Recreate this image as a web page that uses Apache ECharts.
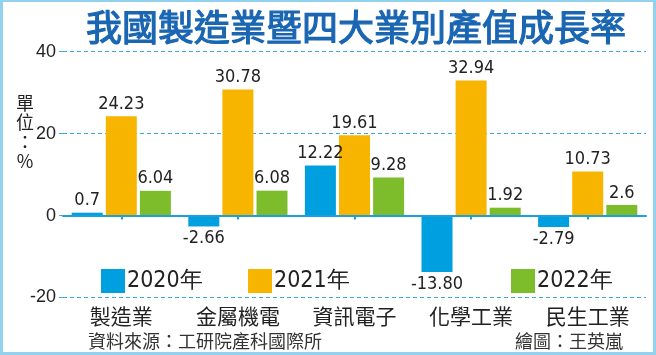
<!DOCTYPE html>
<html><head><meta charset="utf-8">
<script src="https://cdn.jsdelivr.net/npm/echarts@6/dist/echarts.min.js"></script>
<style>html,body{margin:0;padding:0;background:#fff}#c{width:656px;height:355px}</style>
</head><body><div id="c"></div>
<script>
const categories = ['製造業', '金屬機電', '資訊電子', '化學工業', '民生工業'];
const seriesNames = ['2020年', '2021年', '2022年'];
const values2020 = ['0.7', '-2.66', '12.22', '-13.80', '-2.79'];
const values2021 = ['24.23', '30.78', '19.61', '32.94', '10.73'];
const values2022 = ['6.04', '6.08', '9.28', '1.92', '2.6'];
const yTicks = [-20, 0, 20, 40];

const colors = ['#00a0e0', '#f7b500', '#7dbd2c'];
const NUM = '"Liberation Sans Narrow","DejaVu Sans Condensed","Liberation Sans",sans-serif';
const CJK = '"Noto Sans CJK TC","Noto Sans CJK SC",sans-serif';
const dash = '#3aa9dc';

function mk(name, vals, color, idx) {
  return {
    name: name, type: 'bar', barWidth: 31, barGap: '10%',
    itemStyle: { color: color },
    label: {
      show: true, color: '#222', fontSize: 18, fontFamily: NUM, distance: 3,
      formatter: p => vals[p.dataIndex]
    },
    data: vals.map(v => ({ value: Number(v), label: { position: Number(v) < 0 ? 'bottom' : 'top' } })),
    markLine: idx === 0 ? {
      silent: true, symbol: 'none', label: { show: false },
      lineStyle: { color: '#1aa0dc', width: 2, type: 'solid' },
      data: [{ yAxis: 0 }]
    } : undefined,
    z: 3
  };
}

const chart = echarts.init(document.getElementById('c'), null, { renderer: 'canvas' });
const legendLefts = [96, 243, 506];
chart.setOption({
  animation: false,
  grid: { left: 63, right: 10, top: 51.7, bottom: 57.5 },
  legend: seriesNames.map((n, i) => ({
    data: [n], left: legendLefts[i], top: 264, itemWidth: 24, itemHeight: 24,
    icon: 'rect', selectedMode: false,
    textStyle: { fontSize: 23, color: '#222', fontFamily: NUM, padding: [0, 0, 0, -3] }
  })),
  xAxis: {
    type: 'category', data: categories,
    axisLine: { lineStyle: { color: '#1aa0dc', width: 2 } },
    axisTick: { show: true, alignWithLabel: true, length: 4, lineStyle: { color: '#1aa0dc', width: 2 } },
    axisLabel: { color: '#222', fontSize: 21, fontFamily: CJK, margin: 8 }
  },
  yAxis: {
    type: 'value', min: yTicks[0], max: yTicks[yTicks.length - 1], interval: 20,
    axisLine: { show: false },
    axisTick: { show: true, length: 5, lineStyle: { color: dash, width: 1, type: [4, 3] } },
    axisLabel: { color: '#222', fontSize: 18, fontFamily: '"Liberation Sans",Arial,sans-serif', margin: 7 },
    splitLine: { show: true, lineStyle: { color: dash, width: 1, type: [4, 3] } }
  },
  series: [mk(seriesNames[0], values2020, colors[0], 0), mk(seriesNames[1], values2021, colors[1], 1), mk(seriesNames[2], values2022, colors[2], 2)],
  graphic: [
    { type: 'rect', shape: { x: 1.5, y: 0.5, width: 653, height: 353 }, style: { fill: 'none', stroke: '#92d2ef', lineWidth: 3 }, z: 100 },
    { type: 'text', x: 356, y: 27, style: { text: '我國製造業暨四大業別產值成長率', fontSize: 36, fontWeight: 'normal', fontFamily: CJK, fill: '#1a66b2', align: 'center', verticalAlign: 'middle', stroke: '#1a66b2', lineWidth: 1.2 }, z: 50 },
    { type: 'text', x: 25, y: 93, style: { text: '單\n位\n：\n%', fontSize: 18, lineHeight: 19.5, fontFamily: CJK, fill: '#222', align: 'center', verticalAlign: 'top' } },
    { type: 'text', x: 88, y: 341, style: { text: '資料來源：工研院產科國際所', fontSize: 18, fontFamily: CJK, fill: '#333', align: 'left', verticalAlign: 'middle' } },
    { type: 'text', x: 623, y: 341, style: { text: '繪圖：王英嵐', fontSize: 18, fontFamily: CJK, fill: '#333', align: 'right', verticalAlign: 'middle' } }
  ]
});
</script></body></html>
